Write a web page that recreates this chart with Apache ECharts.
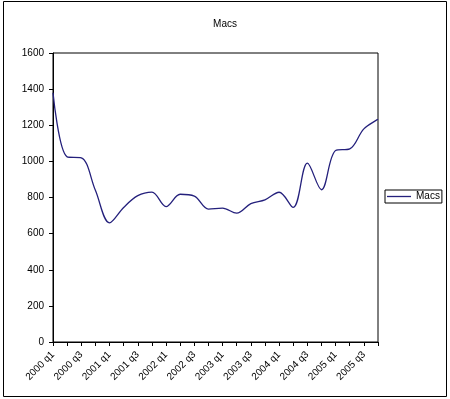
<!DOCTYPE html>
<html>
<head>
<meta charset="utf-8">
<script src="https://cdn.jsdelivr.net/npm/echarts@6/dist/echarts.min.js"></script>
<style>
  html, body { margin: 0; padding: 0; background: #fff; }
  #chart { width: 450px; height: 399px; }
</style>
</head>
<body>
<div id="chart"></div>
<script>
const quarters = [
  '2000 q1', '2000 q2', '2000 q3', '2000 q4',
  '2001 q1', '2001 q2', '2001 q3', '2001 q4',
  '2002 q1', '2002 q2', '2002 q3', '2002 q4',
  '2003 q1', '2003 q2', '2003 q3', '2003 q4',
  '2004 q1', '2004 q2', '2004 q3', '2004 q4',
  '2005 q1', '2005 q2', '2005 q3', '2005 q4'
];
const macs = [
  1380, 1025, 1020, 840, 660, 745, 810, 830,
  750, 818, 808, 736, 741, 713, 766, 787,
  829, 745, 990, 843, 1060, 1069, 1180, 1232
];
const yTicks = { min: 0, max: 1600, step: 200 };

const chart = echarts.init(document.getElementById('chart'), null, { renderer: 'canvas' });
const font = 'Liberation Sans, Arial, sans-serif';
const lineColor = '#24207c'; // excel navy

chart.setOption({
  animation: false,
  title: {
    text: 'Macs',
    left: 'center',
    top: 14,
    textStyle: { fontFamily: font, fontSize: 10, fontWeight: 'normal', color: '#000' }
  },
  legend: {
    data: ['Macs'],
    left: 385,
    top: 190,
    orient: 'vertical',
    icon: 'rect',
    padding: [1, 2],
    itemWidth: 24,
    itemHeight: 1.3,
    itemGap: 0,
    borderColor: '#000',
    borderWidth: 1,
    textStyle: { fontFamily: font, fontSize: 10, color: '#000', lineHeight: 11 }
  },
  grid: {
    left: 53,
    right: 72,
    top: 53,
    bottom: 57,
    show: true,
    borderColor: '#000',
    borderWidth: 1
  },
  xAxis: {
    type: 'category',
    data: quarters,
    boundaryGap: false,
    axisLine: { lineStyle: { color: '#000', width: 1 } },
    axisTick: { show: true, interval: 0, length: 4, lineStyle: { color: '#000' } },
    axisLabel: {
      interval: 1,
      rotate: 45,
      margin: 11,
      fontFamily: font,
      fontSize: 10,
      color: '#000'
    },
    splitLine: { show: false }
  },
  yAxis: {
    type: 'value',
    min: yTicks.min,
    max: yTicks.max,
    interval: yTicks.step,
    axisLine: { show: true, lineStyle: { color: '#000', width: 1 } },
    axisTick: { show: true, length: 4, lineStyle: { color: '#000' } },
    axisLabel: {
      margin: 9,
      fontFamily: font,
      fontSize: 10,
      color: '#000',
      formatter: v => String(v)
    },
    splitLine: { show: false }
  },
  graphic: [
    {
      type: 'rect',
      shape: { x: 3.5, y: 1.5, width: 443, height: 395 },
      style: { fill: 'none', stroke: '#000', lineWidth: 1 },
      silent: true,
      z: -1
    }
  ],
  series: [
    {
      name: 'Macs',
      type: 'line',
      data: macs,
      symbol: 'none',
      smooth: 0.35,
      itemStyle: { color: lineColor },
      lineStyle: { color: lineColor, width: 1.3 }
    }
  ]
});
</script>
</body>
</html>
